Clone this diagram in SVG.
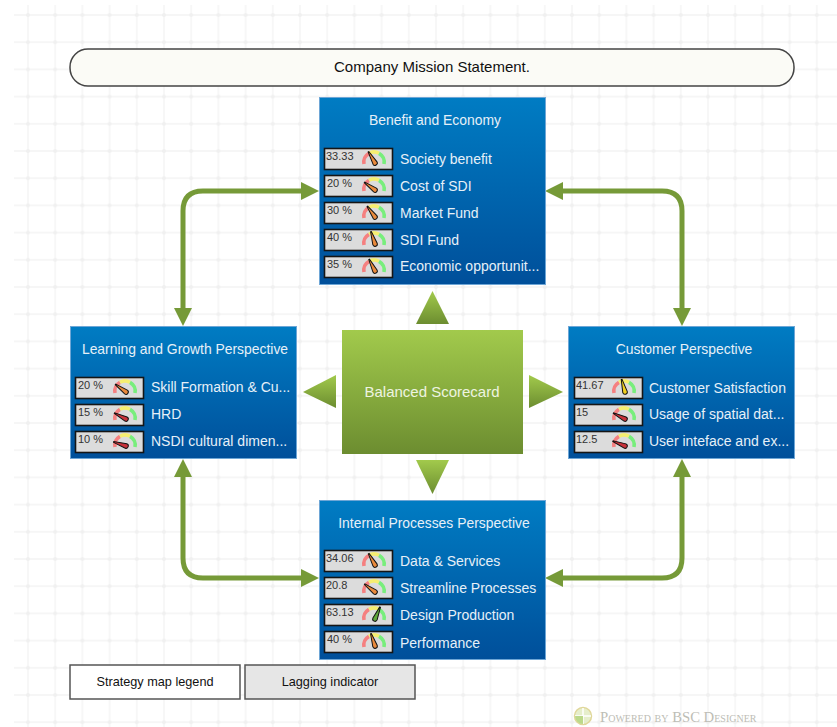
<svg xmlns="http://www.w3.org/2000/svg" width="837" height="727" viewBox="0 0 837 727">
<style>
text{font-family:"Liberation Sans",Arial,sans-serif}
.box{stroke:#6ea6d6;stroke-width:1;fill:url(#blue)}
.ttl{fill:#e6f0f8;font-size:13.9px;text-anchor:middle}
.lbl{fill:#e6f0f8;font-size:14px}
.val{fill:#333;font-size:11px}
.tri{fill:url(#green)}
.conn{fill:none;stroke:#769a38;stroke-width:5;marker-start:url(#ah);marker-end:url(#ah)}
.leg{stroke:#555;stroke-width:1.5}
.legt{fill:#111;font-size:12.7px;text-anchor:middle}
</style>
<defs>
<linearGradient id="blue" x1="0" y1="0" x2="0" y2="1"><stop offset="0" stop-color="#007cc3"/><stop offset="1" stop-color="#004f9a"/></linearGradient>
<linearGradient id="green" x1="0" y1="0" x2="0" y2="1"><stop offset="0" stop-color="#a2ca4c"/><stop offset="1" stop-color="#6c8d30"/></linearGradient>
<pattern id="grid" x="14.4" y="1.4" width="27.2" height="27.2" patternUnits="userSpaceOnUse">
<path d="M13.6 0V27.2M0 13.6H27.2" fill="none" stroke="#f3f3f3" stroke-width="1.300"/>
<circle cx="13.6" cy="13.6" r="2" fill="#f0f0f0"/>
</pattern>
<marker id="ah" viewBox="0 0 18 18" refX="12" refY="9" markerWidth="18" markerHeight="18" markerUnits="userSpaceOnUse" orient="auto-start-reverse"><path d="M0 0L18 9L0 18Z" fill="#769a38"/></marker>
<g id="gauge">
<rect x="0" y="0" width="68" height="21" fill="#dcdcdc" stroke="#151515" stroke-width="1.6"/>
<path d="M39.5 15.5A10 10 0 0 1 44.5 4.8" fill="none" stroke="#f58080" stroke-width="3.600"/>
<path d="M44.5 4.800A10 10 0 0 1 54.500 4.800" fill="none" stroke="#f6ee70" stroke-width="3.600"/>
<path d="M54.500 4.800A10 10 0 0 1 59.500 15.500" fill="none" stroke="#78ee7c" stroke-width="3.600"/>
</g>
<path id="needle" d="M-0.4 -13L0.4 -13L2.3 0A2.3 2.3 0 0 1 -2.3 0Z" stroke="#111" stroke-width="1"/>
</defs>
<rect x="14" y="5" width="823" height="722" fill="url(#grid)"/>

<g id="connectors">
<path class="conn" d="M183 320V211Q183 191 203 191H313"/>
<path class="conn" d="M551 191H662Q682 191 682 211V320"/>
<path class="conn" d="M183 465V558Q183 578 203 578H313"/>
<path class="conn" d="M551 578H662Q682 578 682 558V465"/>
</g>

<g id="mission">
<rect x="70" y="49" width="724" height="37" rx="18" fill="#fbfbf6" stroke="#444" stroke-width="1.5"/>
<text x="432" y="72" font-size="15" fill="#111" text-anchor="middle">Company Mission Statement.</text>
</g>

<g id="benefit">
<rect class="box" x="319.500" y="97.500" width="226" height="187"/>
<text class="ttl" x="435" y="125">Benefit and Economy</text>
<use href="#gauge" x="324.500" y="148.500"/><use href="#needle" fill="#e98a3c" transform="translate(375 163) rotate(-30)"/><text class="val" x="326" y="160">33.33</text><text class="lbl" x="400" y="164">Society benefit</text>
<use href="#gauge" x="324.500" y="175.500"/><use href="#needle" fill="#e98a3c" transform="translate(375 190) rotate(-54)"/><text class="val" x="327" y="187">20 %</text><text class="lbl" x="400" y="191">Cost of SDI</text>
<use href="#gauge" x="324.500" y="202.500"/><use href="#needle" fill="#e98a3c" transform="translate(375 217) rotate(-36)"/><text class="val" x="327" y="214">30 %</text><text class="lbl" x="400" y="218">Market Fund</text>
<use href="#gauge" x="324.500" y="229.500"/><use href="#needle" fill="#e98a3c" transform="translate(375 244) rotate(-18)"/><text class="val" x="327" y="241">40 %</text><text class="lbl" x="400" y="245">SDI Fund</text>
<use href="#gauge" x="324.500" y="256.500"/><use href="#needle" fill="#e98a3c" transform="translate(375 271) rotate(-27)"/><text class="val" x="327" y="268">35 %</text><text class="lbl" x="400" y="271">Economic opportunit...</text>
</g>

<g id="learning">
<rect class="box" x="70.500" y="326.500" width="226" height="132"/>
<text class="ttl" x="185" y="354">Learning and Growth Perspective</text>
<use href="#gauge" x="75.500" y="377.500"/><use href="#needle" fill="#e98a3c" transform="translate(126 392) rotate(-54)"/><text class="val" x="78" y="389">20 %</text><text class="lbl" x="151" y="392">Skill Formation &amp; Cu...</text>
<use href="#gauge" x="75.500" y="404.500"/><use href="#needle" fill="#c8323a" transform="translate(126 419) rotate(-63)"/><text class="val" x="78" y="416">15 %</text><text class="lbl" x="151" y="419">HRD</text>
<use href="#gauge" x="75.500" y="431.500"/><use href="#needle" fill="#c8323a" transform="translate(126 446) rotate(-72)"/><text class="val" x="78" y="443">10 %</text><text class="lbl" x="151" y="446">NSDI cultural dimen...</text>
</g>

<g id="customer">
<rect class="box" x="568.500" y="326.500" width="226" height="132"/>
<text class="ttl" x="684" y="354">Customer Perspective</text>
<use href="#gauge" x="574.500" y="377.500"/><use href="#needle" fill="#f0d020" transform="translate(625 392) rotate(-15)"/><text class="val" x="576" y="389">41.67</text><text class="lbl" x="649" y="393">Customer Satisfaction</text>
<use href="#gauge" x="574.500" y="404.500"/><use href="#needle" fill="#c8323a" transform="translate(625 419) rotate(-63)"/><text class="val" x="576" y="416">15</text><text class="lbl" x="649" y="419">Usage of spatial dat...</text>
<use href="#gauge" x="574.500" y="431.500"/><use href="#needle" fill="#c8323a" transform="translate(625 446) rotate(-68)"/><text class="val" x="576" y="443">12.5</text><text class="lbl" x="649" y="446">User inteface and ex...</text>
</g>

<g id="internal">
<rect class="box" x="319.500" y="500.500" width="226" height="159"/>
<text class="ttl" x="434" y="528">Internal Processes Perspective</text>
<use href="#gauge" x="324.500" y="550.500"/><use href="#needle" fill="#e98a3c" transform="translate(375 565) rotate(-29)"/><text class="val" x="326" y="562">34.06</text><text class="lbl" x="400" y="566">Data &amp; Services</text>
<use href="#gauge" x="324.500" y="577.500"/><use href="#needle" fill="#e98a3c" transform="translate(375 592) rotate(-53)"/><text class="val" x="326" y="589">20.8</text><text class="lbl" x="400" y="593">Streamline Processes</text>
<use href="#gauge" x="324.500" y="604.500"/><use href="#needle" fill="#5fa83c" transform="translate(375 619) rotate(23)"/><text class="val" x="326" y="616">63.13</text><text class="lbl" x="400" y="620">Design Production</text>
<use href="#gauge" x="324.500" y="631.500"/><use href="#needle" fill="#e98a3c" transform="translate(375 646) rotate(-18)"/><text class="val" x="327" y="643">40 %</text><text class="lbl" x="400" y="648">Performance</text>
</g>

<g id="scorecard">
<rect x="342" y="330" width="181" height="124" fill="url(#green)"/>
<text x="432" y="397" font-size="15" fill="#eef4e0" text-anchor="middle">Balanced Scorecard</text>
</g>
<g id="pointers">
<path class="tri" d="M432.500 291L449 324H416Z"/>
<path class="tri" d="M416 460H449L432.500 494Z"/>
<path class="tri" d="M303 392L336 375V408Z"/>
<path class="tri" d="M563 392L529 375V408Z"/>
</g>

<g id="legend">
<rect class="leg" x="70" y="665" width="170" height="34" fill="#fff"/>
<text class="legt" x="155" y="686">Strategy map legend</text>
<rect class="leg" x="245" y="665" width="170" height="34" fill="#e6e6e6"/>
<text class="legt" x="330" y="686">Lagging indicator</text>
</g>

<g id="watermark">
<circle cx="583" cy="716" r="8.500" fill="#e6eecb" stroke="#e0d79a" stroke-width="1.500"/>
<path d="M583 708V724M575 716H591" stroke="#fff" stroke-width="1.500"/>
<path d="M583 716H575A8 8 0 0 0 583 724Z" fill="#bcd98a"/>
<text x="600" y="722" font-size="14.700" fill="#bdbdb5" style="font-family:'Liberation Serif',serif;font-variant:small-caps">Powered by BSC Designer</text>
</g>
</svg>
